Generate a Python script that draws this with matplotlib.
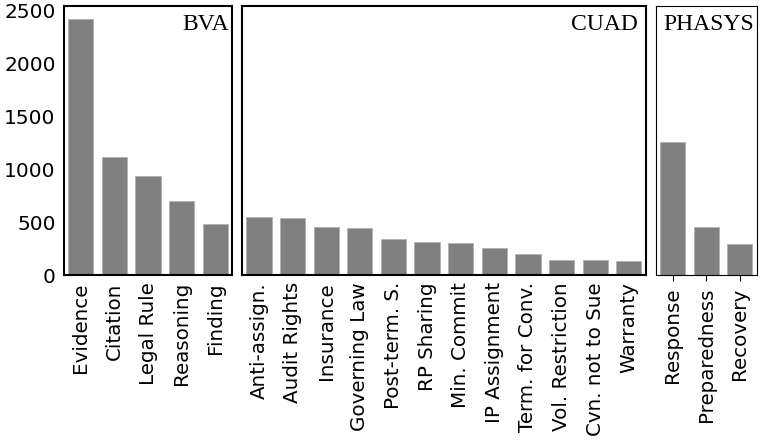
import matplotlib
matplotlib.use('Agg')
import matplotlib.pyplot as plt

bva_labels = ['Evidence', 'Citation', 'Legal Rule', 'Reasoning', 'Finding']
bva_counts = [2424, 1119, 935, 706, 485]

cuad_labels = ['Anti-assign.', 'Audit Rights', 'Insurance', 'Governing Law',
               'Post-term. S.', 'RP Sharing', 'Min. Commit', 'IP Assignment',
               'Term. for Conv.', 'Vol. Restriction', 'Cvn. not to Sue',
               'Warranty']
cuad_counts = [554, 545, 453, 444, 339, 317, 304, 257, 197, 146, 140, 133]

phasys_labels = ['Response', 'Preparedness', 'Recovery']
phasys_counts = [1258, 456, 295]

y_ticks = [0, 500, 1000, 1500, 2000, 2500]


def draw_panel(ax, labels, counts, name, frame_lw, ticks):
    """
    bars for one dataset, name written in the top right corner
    """
    pos = range(len(labels))
    ax.bar(pos, counts, width=0.75, color='#808080',
           edgecolor='#b0b0b0', linewidth=0.6)
    ax.set_xlim(-0.5, len(labels) - 0.5)
    ax.set_xticks(list(pos))
    ax.set_xticklabels(labels, rotation=90, fontsize=14.3)
    ax.tick_params(axis='x', length=4 if ticks else 0, pad=5)
    ax.tick_params(axis='y', length=0)
    for spine in ax.spines.values():
        spine.set_linewidth(frame_lw)
    ax.text(0.98, 0.97, name, transform=ax.transAxes, ha='right', va='top',
            fontsize=17, family='Liberation Serif')


fig, axes = plt.subplots(1, 3, figsize=(7.8, 4.41), dpi=100, sharey=True,
                         gridspec_kw={'width_ratios': [5, 12, 3]})
fig.subplots_adjust(left=0.082, right=0.970, top=0.986, bottom=0.376,
                    wspace=0.045)

draw_panel(axes[0], bva_labels, bva_counts, 'BVA', 1.5, False)
draw_panel(axes[1], cuad_labels, cuad_counts, 'CUAD', 1.5, False)
draw_panel(axes[2], phasys_labels, phasys_counts, 'PHASYS', 0.8, True)

axes[0].set_ylim(0, max(bva_counts) * 1.05)
axes[0].set_yticks(y_ticks)
axes[0].tick_params(axis='y', labelsize=14.5, pad=6)

fig.savefig('out.png')
